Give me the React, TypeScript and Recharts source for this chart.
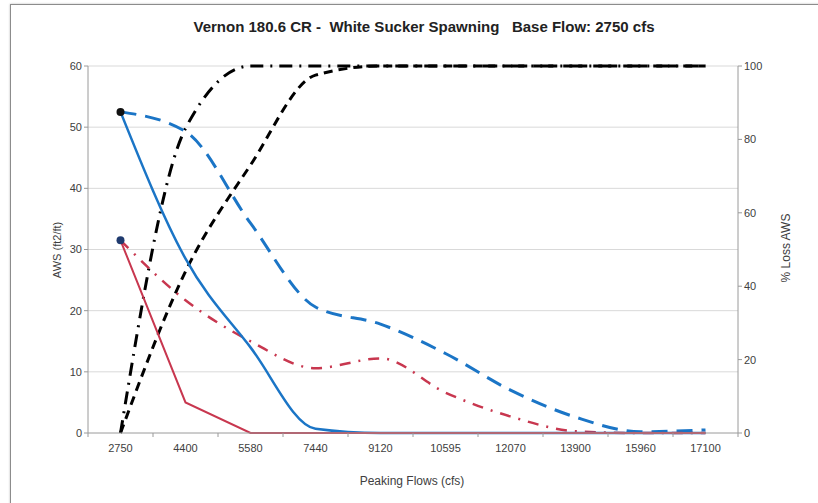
import React from "react";
import { LineChart, Line, XAxis, YAxis, CartesianGrid } from "recharts";

const flows = ["2750", "4400", "5580", "7440", "9120", "10595", "12070", "13900", "15960", "17100"];
const awsBlueSolid = [52.5, 28.5, 14, 0.7, 0, 0, 0, 0, 0, 0];
const awsRedSolid = [31.5, 5, 0, 0, 0, 0, 0, 0, 0, 0];
const awsBlueDashed = [52.5, 49.3, 34.3, 20.6, 17.8, 13, 7, 2.6, 0.2, 0.5];
const awsRedDashDot = [31.5, 21.7, 15, 10.6, 12.2, 6.6, 2.7, 0.3, 0, 0];
const lossDashDot = [0, 83, 100, 100, 100, 100, 100, 100, 100, 100];
const lossDashed = [0, 44, 73, 97.5, 100, 100, 100, 100, 100, 100];
const leftTicks = [0, 10, 20, 30, 40, 50, 60];
const rightTicks = [0, 20, 40, 60, 80, 100];

const data = flows.map((f, i) => ({
  flow: f,
  blueSolid: awsBlueSolid[i],
  redSolid: awsRedSolid[i],
  blueDashed: awsBlueDashed[i],
  redDashDot: awsRedDashDot[i],
  lossDD: lossDashDot[i],
  lossD: lossDashed[i],
}));

const BLUE = "#1B75C6";
const RED = "#C8374F";
const AXIS = "#9a9a9a";
const TEXT = "#404040";
const FONT = "'Liberation Sans', Arial, sans-serif";

const firstDot = (color: string) => (props: any) => {
  const { cx, cy, index } = props;
  if (index !== 0) return <g key={`d${index}`} />;
  return <circle key={`d${index}`} cx={cx} cy={cy} r={4} fill={color} stroke="none" />;
};

const XTick = (props: any) => {
  const { x, y, payload, index } = props;
  const half = 32.5;
  return (
    <g>
      <line x1={x - half} x2={x - half} y1={y - 8} y2={y - 4} stroke={AXIS} />
      {index === flows.length - 1 ? (
        <line x1={x + half} x2={x + half} y1={y - 8} y2={y - 4} stroke={AXIS} />
      ) : null}
      <text x={x} y={y + 11} textAnchor="middle" fill={TEXT} fontSize={11} fontFamily={FONT}>
        {payload.value}
      </text>
    </g>
  );
};

export default function App() {
  return (
    <div style={{ position: "absolute", left: 0, top: 0, width: 818, height: 503, overflow: "hidden", background: "#fff" }}>
      <div style={{ position: "absolute", left: 10, top: 4, width: 830, height: 520, border: "1px solid #8c8c8c", boxShadow: "0 0 2px #bbb" }} />
      <div
        style={{
          position: "absolute",
          left: 0,
          width: 848,
          top: 18,
          textAlign: "center",
          fontFamily: FONT,
          fontWeight: "bold",
          fontSize: 15,
          color: "#222",
          whiteSpace: "pre",
        }}
      >
        {"Vernon 180.6 CR -  White Sucker Spawning   Base Flow: 2750 cfs"}
      </div>
      <div style={{ position: "absolute", left: 0, top: 0 }}>
        <LineChart width={818} height={503} data={data} margin={{ top: 66, left: 48, right: 30, bottom: 40 }}>
          <CartesianGrid yAxisId="left" vertical={false} stroke="#d9d9d9" horizontalValues={leftTicks.slice(1)} />
          <XAxis
            dataKey="flow"
            padding={{ left: 32.5, right: 32.5 }}
            stroke={AXIS}
            tickLine={false}
            tick={<XTick />}
            height={30}
            interval={0}
          />
          <YAxis
            yAxisId="left"
            orientation="left"
            domain={[0, 60]}
            ticks={leftTicks}
            width={40}
            stroke={AXIS}
            tickSize={4}
            tick={{ fill: TEXT, fontSize: 11, fontFamily: FONT }}
          />
          <YAxis
            yAxisId="right"
            orientation="right"
            domain={[0, 100]}
            ticks={rightTicks}
            width={50}
            stroke={AXIS}
            tickSize={4}
            tick={{ fill: TEXT, fontSize: 11, fontFamily: FONT, textAnchor: "start" }}
          />
          <Line yAxisId="right" type="monotone" dataKey="lossD" stroke="#000" strokeWidth={3} strokeDasharray="9 6" dot={false} isAnimationActive={false} />
          <Line yAxisId="right" type="monotone" dataKey="lossDD" stroke="#000" strokeWidth={3} strokeDasharray="13 7 2 7" dot={false} isAnimationActive={false} />
          <Line yAxisId="left" type="monotone" dataKey="blueDashed" stroke={BLUE} strokeWidth={3} strokeDasharray="16 9" dot={false} isAnimationActive={false} />
          <Line yAxisId="left" type="monotone" dataKey="redDashDot" stroke={RED} strokeWidth={2.5} strokeDasharray="11 8 2 8" dot={false} isAnimationActive={false} />
          <Line yAxisId="left" type="monotone" dataKey="blueSolid" stroke={BLUE} strokeWidth={2.5} dot={firstDot("#111")} isAnimationActive={false} />
          <Line yAxisId="left" type="linear" dataKey="redSolid" stroke={RED} strokeWidth={2} dot={firstDot("#1F3A6E")} isAnimationActive={false} />
        </LineChart>
      </div>
      <div
        style={{
          position: "absolute",
          left: 57,
          top: 250,
          transform: "translate(-50%, -50%) rotate(-90deg)",
          fontFamily: FONT,
          fontSize: 11,
          color: TEXT,
          whiteSpace: "nowrap",
        }}
      >
        AWS (ft2/ft)
      </div>
      <div
        style={{
          position: "absolute",
          left: 786,
          top: 248,
          transform: "translate(-50%, -50%) rotate(-90deg)",
          fontFamily: FONT,
          fontSize: 12,
          color: TEXT,
          whiteSpace: "nowrap",
        }}
      >
        % Loss AWS
      </div>
      <div
        style={{
          position: "absolute",
          left: 412,
          top: 481,
          transform: "translate(-50%, -50%)",
          fontFamily: FONT,
          fontSize: 12,
          color: TEXT,
          whiteSpace: "nowrap",
        }}
      >
        Peaking Flows (cfs)
      </div>
    </div>
  );
}
